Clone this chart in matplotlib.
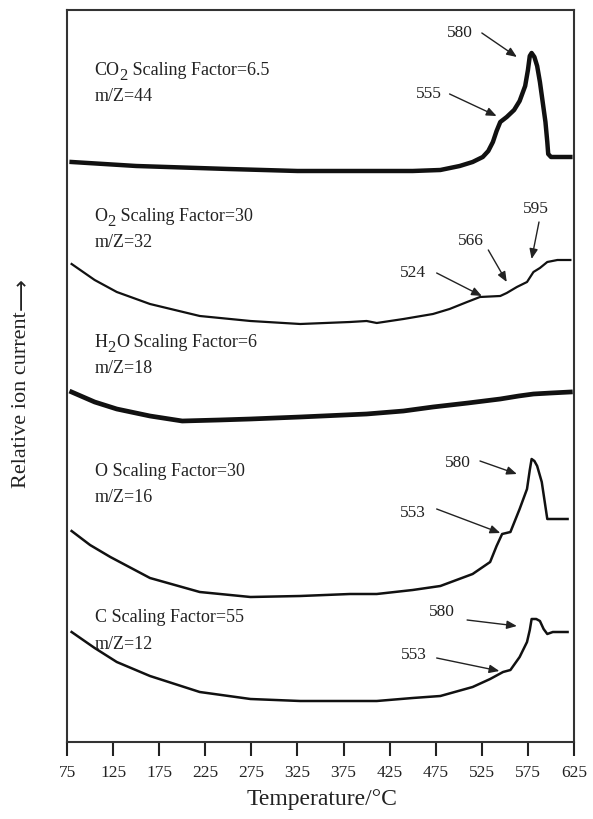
import numpy as np
import matplotlib
matplotlib.use("Agg")
import matplotlib.pyplot as plt

plt.rcParams['font.family'] = ['Liberation Serif', 'DejaVu Serif']

# traces: temperature (deg C) and height above the x axis (arbitrary units)
co2_t = [80, 150, 250, 325, 400, 450, 480, 501, 515, 526, 532, 537, 541, 545, 552, 560, 566, 572, 575, 577, 579, 582, 585, 588, 591, 594, 596, 597, 600, 621]
co2_h = [580, 576, 573, 571, 571, 571, 572, 576, 580, 585, 591, 600, 611, 620, 625, 632, 641, 656, 672, 686, 689, 685, 676, 660, 640, 620, 600, 588, 585, 585]

o2_t = [80, 105, 129, 165, 219, 274, 328, 382, 400, 411, 440, 472, 490, 509, 523, 545, 552, 563, 574, 581, 588, 596, 607, 621]
o2_h = [478, 462, 450, 438, 426, 421, 418, 420, 421, 419, 423, 428, 433, 440, 445, 446, 449, 455, 460, 470, 474, 480, 482, 482]

h2o_t = [80, 105, 129, 165, 200, 240, 274, 328, 400, 440, 472, 510, 545, 565, 581, 600, 621]
h2o_h = [350, 340, 333, 326, 321, 322, 323, 325, 328, 331, 335, 339, 343, 346, 348, 349, 350]

o_t = [80, 100, 122, 165, 219, 274, 328, 382, 411, 450, 480, 515, 534, 541, 547, 556, 566, 574, 577, 579, 582, 585, 590, 596, 602, 618]
o_h = [211, 197, 185, 164, 150, 145, 146, 148, 148, 152, 156, 168, 180, 196, 208, 210, 233, 253, 272, 283, 281, 276, 260, 223, 223, 223]

c_t = [80, 105, 129, 165, 219, 274, 328, 411, 450, 480, 515, 534, 548, 556, 566, 574, 577, 579, 584, 588, 592, 596, 602, 618]
c_h = [110, 94, 80, 66, 50, 43, 41, 41, 44, 46, 55, 63, 70, 72, 85, 100, 112, 123, 123, 121, 113, 108, 110, 110]

gas_names = [('CO', '2', ''), ('O', '2', ''), ('H', '2', 'O'), ('O', '', ''), ('C', '', '')]
scaling = ['6.5', '30', '6', '30', '55']
mz = ['44', '32', '18', '16', '12']

xticks = [75, 125, 175, 225, 275, 325, 375, 425, 475, 525, 575, 625]

fig = plt.figure(figsize=(5.93, 8.2), dpi=100)
ax = fig.add_axes([0.113, 0.0939, 0.855, 0.8927])

ink = '#111111'
txt = '#222222'
ax.plot(co2_t, co2_h, color=ink, lw=3.2, solid_joinstyle='round')
ax.plot(o2_t, o2_h, color=ink, lw=1.6)
ax.plot(h2o_t, h2o_h, color=ink, lw=3.4)
ax.plot(o_t, o_h, color=ink, lw=1.8)
ax.plot(c_t, c_h, color=ink, lw=1.8)

ax.set_xlim(75, 625)
ax.set_ylim(0, 732)
ax.set_xticks(xticks)
ax.set_yticks([])
ax.tick_params(axis='x', direction='out', length=10, width=1.5, pad=6,
               labelsize=12.5, colors=txt)
for s in ax.spines.values():
    s.set_linewidth(1.5)
    s.set_color('#333333')

# curve labels, subscript drawn as a lowered smaller digit
label_h = [672, 526, 400, 271, 125]
for (a, sub, b), sf, m, h in zip(gas_names, scaling, mz, label_h):
    t1 = ax.text(105, h, a, fontsize=13, color=txt, va='center')
    last = t1
    if sub:
        t2 = ax.annotate(sub, xy=(1, 0), xycoords=t1, xytext=(0, -3),
                         textcoords='offset points', fontsize=12, color=txt,
                         va='bottom', ha='left')
        last = ax.annotate(b, xy=(1, 0), xycoords=t2, xytext=(0, 3),
                           textcoords='offset points', fontsize=13, color=txt,
                           va='bottom', ha='left')
    ax.annotate(f' Scaling Factor={sf}', xy=(1, 0), xycoords=last, fontsize=13,
                color=txt, va='bottom', ha='left')
    ax.text(105, h - 26, f'm/Z={m}', fontsize=13, color=txt, va='center')

# peak annotations: (label, text pos, arrow tail, arrow tip)
notes = [
    ('580', (501, 710), (525, 709), (563, 685)),
    ('555', (468, 649), (490, 648), (541, 626)),
    ('524', (450, 470), (476, 469), (525, 446)),
    ('566', (513, 502), (532, 492), (552, 460)),
    ('595', (584, 534), (587, 520), (579, 483)),
    ('580', (499, 280), (523, 281), (563, 268)),
    ('553', (450, 230), (476, 233), (545, 209)),
    ('580', (482, 131), (509, 122), (563, 116)),
    ('553', (451, 88), (476, 84), (544, 71)),
]
for lab, tpos, tail, tip in notes:
    ax.text(tpos[0], tpos[1], lab, fontsize=12.5, color=txt, ha='center', va='center')
    ax.annotate('', xy=tip, xytext=tail,
                arrowprops=dict(arrowstyle='-|>,head_length=0.6,head_width=0.25',
                                color=txt, lw=1.0, shrinkA=0, shrinkB=0))

fig.text(322 / 593, 1 - 800 / 820, 'Temperature/°C', fontsize=17, color=txt,
         ha='center', va='center')
yl = fig.text(22 / 593, 1 - 400 / 820, 'Relative ion current', fontsize=16, color=txt,
              ha='center', va='center', rotation=90)
ax.annotate('⟶', xy=(0.5, 1), xycoords=yl, xytext=(0, 1), textcoords='offset points',
            fontsize=16, color=txt, rotation=90, ha='center', va='bottom',
            family=['DejaVu Sans'], annotation_clip=False)

fig.savefig('out.png', dpi=100)
